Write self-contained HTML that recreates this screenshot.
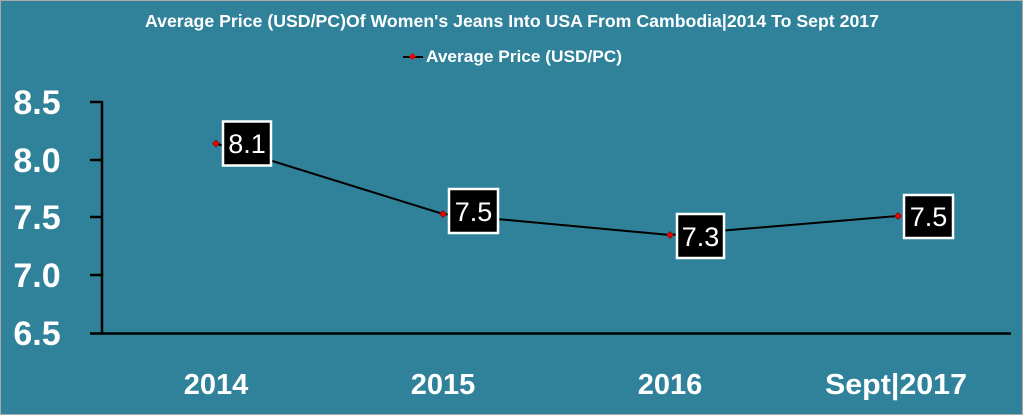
<!DOCTYPE html>
<html><head><meta charset="utf-8"><style>
html,body{margin:0;padding:0;background:#fff;}
svg{display:block;}
text{font-family:"Liberation Sans",sans-serif;fill:#fff;}
</style></head><body>
<svg width="1024" height="416" viewBox="0 0 1024 416" xmlns="http://www.w3.org/2000/svg">
<rect x="0.5" y="0.5" width="1022" height="414" fill="#2f8299" stroke="#a9a9a9" stroke-width="1"/>
<text x="512" y="27" font-size="17.5" font-weight="bold" text-anchor="middle" textLength="734" lengthAdjust="spacingAndGlyphs">Average Price (USD/PC)Of Women's Jeans Into USA From Cambodia|2014 To Sept 2017</text>
<line x1="403" y1="57" x2="423" y2="57" stroke="#000" stroke-width="2"/>
<rect x="410" y="54" width="5" height="5" fill="#e00" transform="rotate(45 412.5 56.5)"/>
<text x="426" y="62" font-size="17" font-weight="bold" textLength="196" lengthAdjust="spacingAndGlyphs">Average Price (USD/PC)</text>
<g stroke="#000" stroke-width="2.5" fill="none">
<line x1="102" y1="101" x2="102" y2="334"/>
<line x1="90" y1="102" x2="102" y2="102"/>
<line x1="90" y1="160" x2="102" y2="160"/>
<line x1="90" y1="217" x2="102" y2="217"/>
<line x1="90" y1="275" x2="102" y2="275"/>
<line x1="90" y1="333.5" x2="1011" y2="333.5"/>
</g>
<g font-size="34" font-weight="bold" text-anchor="middle">
<text x="37" y="114">8.5</text>
<text x="37" y="172">8.0</text>
<text x="37" y="229">7.5</text>
<text x="37" y="287">7.0</text>
<text x="37" y="345">6.5</text>
</g>
<g font-size="29" font-weight="bold" text-anchor="middle">
<text x="216" y="394">2014</text>
<text x="443" y="394">2015</text>
<text x="670" y="394">2016</text>
<text x="896" y="394" textLength="142" lengthAdjust="spacingAndGlyphs">Sept|2017</text>
</g>
<polyline points="216,143.5 443,214 670,235 898,216" fill="none" stroke="#000" stroke-width="2"/>
<g fill="#e00" stroke="#600" stroke-width="0.5">
<rect x="213.5" y="141" width="5" height="5" transform="rotate(45 216 143.5)"/>
<rect x="440.5" y="211.5" width="5" height="5" transform="rotate(45 443 214)"/>
<rect x="667.5" y="232.5" width="5" height="5" transform="rotate(45 670 235)"/>
<rect x="895.5" y="213.5" width="5" height="5" transform="rotate(45 898 216)"/>
</g>
<g fill="#000" stroke="#fff" stroke-width="2.5">
<rect x="223" y="121.5" width="48" height="44"/>
<rect x="449" y="189" width="49" height="44"/>
<rect x="677" y="214" width="47" height="44"/>
<rect x="904" y="195" width="49" height="43"/>
</g>
<g font-size="27" text-anchor="middle">
<text x="247" y="153">8.1</text>
<text x="473.5" y="221">7.5</text>
<text x="700.5" y="246">7.3</text>
<text x="928.5" y="226">7.5</text>
</g>
</svg>
</body></html>
